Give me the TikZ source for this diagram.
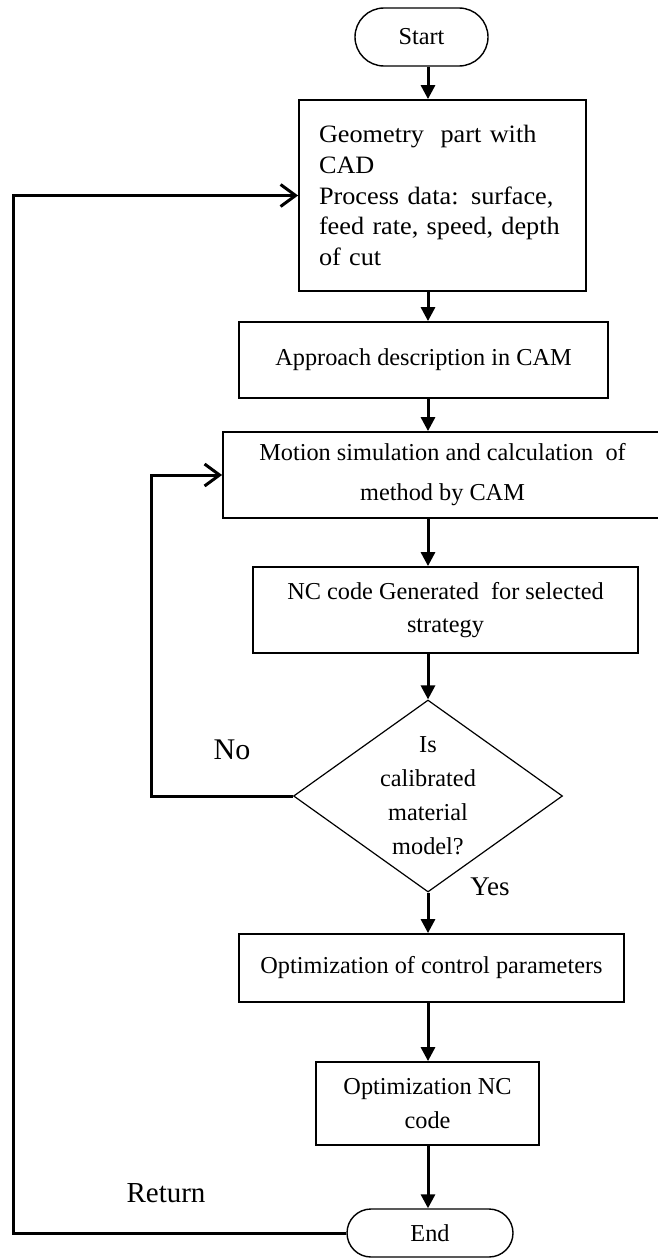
\documentclass[tikz,border=0pt]{standalone}
\usepackage{fontspec}
\setmainfont{Liberation Serif}
\newfontfamily\geomfont[FakeStretch=1.05]{Liberation Serif}
\usetikzlibrary{shapes.geometric,arrows.meta}
\begin{document}
\begin{tikzpicture}[x=1pt,y=-1pt,
  txt/.style={font=\fontsize{24.3}{34}\selectfont},
  box/.style={draw,line width=1.8pt,rectangle,inner sep=0pt,align=center,txt},
  term/.style={draw,line width=1.4pt,rectangle,inner sep=0pt,txt},
  dia/.style={draw,diamond,line width=1.2pt,inner sep=0pt,aspect=1.4,align=center,txt},
  lbl/.style={inner sep=0pt},
  down/.style={-{Triangle[width=14pt,length=14pt]},line width=3pt},
  back/.style={-{Straight Barb[length=15pt,width=22pt]},line width=3pt}
]
\useasboundingbox (0,0) rectangle (658,1258);
\coordinate (ax) at (428,0);
\coordinate (lx) at (151,0);
\coordinate (rx) at (13,0);

\node[term,minimum width=133,minimum height=58,rounded corners=29pt] (start) at (421.5,37) {Start};
\node[box,minimum width=287,minimum height=191,text width=247,inner xsep=20pt,align=left,
      font=\geomfont\fontsize{25}{30.8}\selectfont] (geom) at (442.5,195.5)
  {Geometry\ \ part with\\CAD\\Process data: surface,\\feed rate, speed, depth\\of cut};
\node[box,minimum width=369,minimum height=76] (appr) at (423.5,360) {Approach description in CAM};
\node[box,minimum width=439,minimum height=86,font=\fontsize{24.3}{40}\selectfont] (motion) at (442.5,475)
  {Motion simulation and calculation\ \ of\\method by CAM};
\node[box,minimum width=385,minimum height=86,font=\fontsize{24.3}{33}\selectfont] (nc) at (445.5,610)
  {NC code Generated\ \ for selected\\strategy};
\node[dia,minimum width=269,minimum height=192] (dec) at (428,796) {Is\\calibrated\\material\\model?};
\node[box,minimum width=385,minimum height=68] (optc) at (431.5,968) {Optimization of control parameters};
\node[box,minimum width=223,minimum height=83] (optnc) at (427.5,1103.5) {Optimization NC\\code};
\node[term,minimum width=166,minimum height=48,rounded corners=24pt] (end) at (430,1233) {End};

\node[lbl,font=\fontsize{30}{36}\selectfont] (no) at (232,750) {No};
\node[lbl,font=\fontsize{27}{32}\selectfont] (yes) at (490,887) {Yes};
\node[lbl,font=\fontsize{29}{34}\selectfont] (ret) at (166,1193) {Return};

\draw[down] (start.south -| ax) -- (geom.north -| ax);
\draw[down] (geom.south -| ax) -- (appr.north -| ax);
\draw[down] (appr.south -| ax) -- (motion.north -| ax);
\draw[down] (motion.south -| ax) -- (nc.north -| ax);
\draw[down] (nc.south -| ax) -- (dec.north);
\draw[down] (dec.south) -- (optc.north -| ax);
\draw[down] (optc.south -| ax) -- (optnc.north -| ax);
\draw[down] (optnc.south -| ax) -- (end.north -| ax);

\draw[back] (dec.west) -- (dec.west -| lx) -- (motion.west -| lx) -- (motion.west);
\draw[back] (end.west) -- (end.west -| rx) -- (geom.west -| rx) -- (geom.west);
\end{tikzpicture}
\end{document}
